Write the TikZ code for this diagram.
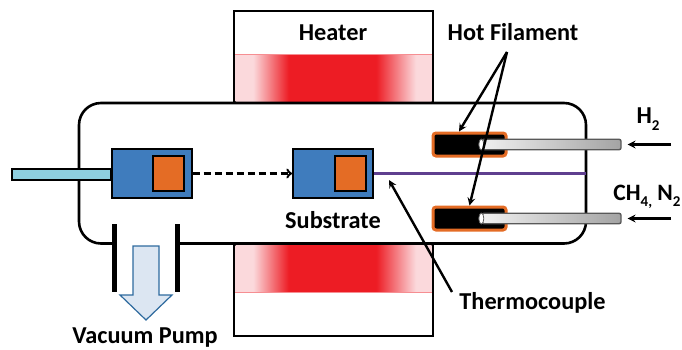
\documentclass[tikz,border=0pt]{standalone}
\usepackage{fontspec}
\setmainfont{Carlito}
\usetikzlibrary{positioning,shapes,arrows}
\definecolor{blockblue}{HTML}{3F7CBD}
\definecolor{subsorange}{HTML}{E46C25}
\definecolor{rodcyan}{HTML}{8ECFDF}
\definecolor{wirepurple}{HTML}{5F3F8F}
\definecolor{pumpfill}{HTML}{DCE6F2}
\definecolor{pumpedge}{HTML}{2E6A9E}
\definecolor{heatred}{HTML}{ED1C24}
\definecolor{heatpink}{HTML}{FBD9DC}
\pgfdeclarehorizontalshading{heatglow}{100bp}{color(0bp)=(heatpink); color(29.5bp)=(heatpink); color(38.6bp)=(heatred); color(60.9bp)=(heatred); color(71bp)=(heatpink); color(100bp)=(heatpink)}
\newcommand{\lowsub}[1]{\raisebox{-6pt}{\fontsize{15}{18}\selectfont #1}}
\begin{document}
\begin{tikzpicture}[x=1pt, y=-1pt, >=stealth,
    tag/.style={font=\bfseries\fontsize{24.3}{28}\selectfont, inner sep=0pt, text=black},
    heaterbox/.style={draw, line width=2pt, minimum width=199pt, minimum height=91pt, inner sep=0pt},
    heatband/.style={shading=heatglow, minimum width=196pt, minimum height=47pt, inner sep=0pt},
    holder/.style={draw, line width=2pt, fill=blockblue, minimum width=80pt, minimum height=49pt, inner sep=0pt},
    wafer/.style={draw, line width=2pt, fill=subsorange, minimum width=31pt, minimum height=35pt, inner sep=0pt},
    plate/.style={fill=black, minimum width=4.5pt, minimum height=68pt, inner sep=0pt},
    filament/.style={draw=subsorange, line width=3pt, fill=black, rounded corners=3pt, minimum width=73pt, minimum height=23pt, inner sep=0pt},
    tube/.style={draw=black!65, line width=1.4pt, rounded corners=2pt, left color=black!6, right color=black!36, minimum width=139pt, minimum height=10.5pt, inner sep=0pt},
    pointer/.style={->, line width=2.4pt},]
\useasboundingbox (0,0) rectangle (682,350);

% heaters
\node[heaterbox] (heaterTop) at (333.5,56.5) {};
\node[heaterbox] (heaterBot) at (333.5,290) {};
\node[heatband] (bandTop) at (333.5,78) {};
\node[heatband] (bandBot) at (333.5,268.5) {};
\draw[heatred!50, line width=0.8pt] (bandTop.north west) -- (bandTop.north east);
\draw[heatred!50, line width=0.8pt] (bandBot.south west) -- (bandBot.south east);
\node[tag] (heaterText) at (333,33) {Heater};

% chamber, open at the pump
\draw[line width=2.6pt, rounded corners=22pt] (113,243.5) -- (79,243.5) -- (79,103) -- (586,103) -- (586,243.5) -- (178,243.5);
\node[plate] (plateLeft) at (114.5,258) {};
\node[plate] (plateRight) at (177.5,258) {};
\draw[draw=pumpedge, line width=1.2pt, fill=pumpfill] (133,246) -- (159,246) -- (159,295) -- (172,295) -- (146,320) -- (120,295) -- (133,295) -- cycle;

% sample holder
\node[draw, line width=2pt, fill=rodcyan, minimum width=99pt, minimum height=11pt, inner sep=0pt] (rod) at (61.5,174) {};
\node[holder] (holderLeft) at (151.5,173.5) {};
\node[wafer] (waferLeft) at (168.5,173.5) {};
\node[holder] (holderRight) at (333,173.5) {};
\node[wafer] (waferRight) at (350.5,173.5) {};
\draw[-to, dash pattern=on 7pt off 4pt, line width=2.4pt] (holderLeft) -- (holderRight);
\node[tag] (substrateText) at (333,220) {Substrate};

% thermocouple
\coordinate (wireEnd) at (586,173.5);
\draw[draw=wirepurple, line width=2.6pt] (holderRight.east) -- (wireEnd);
\coordinate (wireTip) at (389,180);
\coordinate (wireFrom) at (452,292);
\draw[pointer] (wireFrom) -- (wireTip);
\node[tag] (wireText) at (532.5,303) {Thermocouple};

% filaments and gas tubes
\node[filament] (filamentTop) at (469.5,144.5) {};
\node[filament] (filamentBot) at (469.5,218.5) {};
\node[tube] (tubeTop) at (551.5,144.5) {};
\node[tube] (tubeBot) at (551.5,218.5) {};
\draw[black!65, fill=white, line width=0.8pt] (tubeTop.west) ellipse [x radius=2.5, y radius=5.5];
\draw[black!65, fill=white, line width=0.8pt] (tubeBot.west) ellipse [x radius=2.5, y radius=5.5];
\node[tag] (filamentText) at (513,32) {Hot Filament};
\coordinate (filamentFrom) at (507,52);
\draw[pointer] (filamentFrom) -- ([xshift=-10.5pt]filamentTop.north);
\draw[pointer] (filamentFrom) -- (filamentBot.north);

% gas inlets
\node[tag, anchor=base] (hydrogenText) at (648,124) {H\lowsub{2}};
\node[tag, anchor=base, font=\bfseries\fontsize{23.5}{28}\selectfont] (methaneText) at (647,200) {CH\lowsub{4,} N\lowsub{2}};
\coordinate (hydrogenFrom) at (671,144.5);
\coordinate (methaneFrom) at (671,218.5);
\draw[pointer] (hydrogenFrom) -- ([xshift=6pt]tubeTop.east);
\draw[pointer] (methaneFrom) -- ([xshift=6pt]tubeBot.east);

\node[tag] (pumpText) at (145,338) {Vacuum Pump};
\end{tikzpicture}
\end{document}
